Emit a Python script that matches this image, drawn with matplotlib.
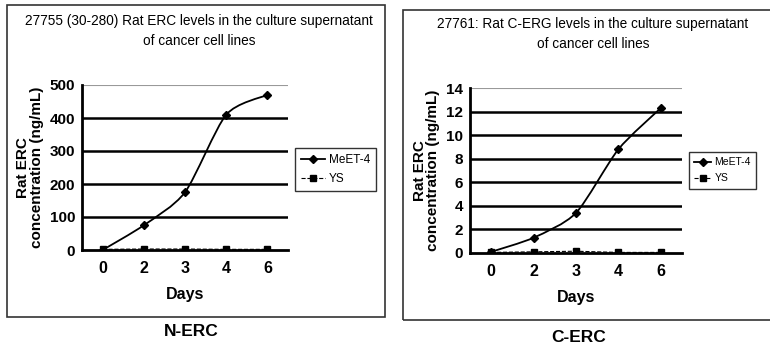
import numpy as np
import matplotlib
matplotlib.use("Agg")
import matplotlib.pyplot as plt
from matplotlib.path import Path
from matplotlib.patches import PathPatch, Rectangle

plt.rcParams["font.family"] = ["Liberation Sans", "DejaVu Sans"]

days = ["0", "2", "3", "4", "6"]

# N-ERC panel (ng/mL)
n_meet4 = [0, 75, 175, 410, 470]
n_ys = [2, 3, 3, 2, 2]

# C-ERC panel (ng/mL)
c_meet4 = [0.1, 1.3, 3.4, 8.8, 12.3]
c_ys = [0.05, 0.1, 0.15, 0.05, 0.05]

W, H = 770, 346


def px_rect(left, top, right, bottom):
    return [left / W, 1 - bottom / H, (right - left) / W, (bottom - top) / H]


def smooth_path(x, y, k=8):
    # smoothed line like a spreadsheet chart: Bezier segments through the points
    x = np.asarray(x, float)
    y = np.asarray(y, float)
    verts = [(x[0], y[0])]
    codes = [Path.MOVETO]
    n = len(x)
    for i in range(n - 1):
        x0, y0 = (x[i - 1], y[i - 1]) if i > 0 else (x[i], y[i])
        x3, y3 = (x[i + 2], y[i + 2]) if i + 2 < n else (x[i + 1], y[i + 1])
        c1 = (x[i] + (x[i + 1] - x0) / k, y[i] + (y[i + 1] - y0) / k)
        c2 = (x[i + 1] - (x3 - x[i]) / k, y[i + 1] - (y3 - y[i]) / k)
        verts += [c1, c2, (x[i + 1], y[i + 1])]
        codes += [Path.CURVE4] * 3
    return Path(verts, codes)


def draw_panel(fig, rect, meet4, ys, ymax, ystep, title, caption, cap_xy,
               leg_xy, leg_fs, leg_hl):
    ax = fig.add_axes(rect)
    xs = np.arange(len(days))
    ax.set_xlim(-0.5, len(days) - 0.5)
    ax.set_ylim(0, ymax)
    ticks = np.arange(0, ymax + 0.01, ystep)
    ax.set_yticks(ticks)
    ax.set_yticklabels([f"{t:g}" for t in ticks])
    ax.set_xticks(xs)
    ax.set_xticklabels(days)
    for t in ticks[1:]:
        top = t == ticks[-1]
        ax.axhline(t, color="#999999" if top else "black",
                   lw=0.8 if top else 1.8, zorder=1)
    for s in ["top", "right"]:
        ax.spines[s].set_visible(False)
    ax.spines["left"].set_linewidth(2)
    ax.spines["bottom"].set_linewidth(2)
    ax.tick_params(axis="y", length=0, labelsize=11, pad=5)
    ax.tick_params(axis="x", length=0, labelsize=11.5, pad=8)
    for lab in ax.get_xticklabels() + ax.get_yticklabels():
        lab.set_fontweight("bold")

    ax.add_patch(PathPatch(smooth_path(xs, meet4), facecolor="none",
                           edgecolor="black", lw=1.3, zorder=3))
    ax.plot(xs, meet4, ls="none", marker="D", ms=4, color="black", zorder=4)
    ax.plot(xs, ys, ls="--", lw=0.8, marker="s", ms=4, color="black", zorder=4)

    ax.set_xlabel("Days", fontsize=11.5, fontweight="bold", labelpad=8)
    ax.set_ylabel("Rat ERC\nconcentration (ng/mL)", fontsize=11,
                  fontweight="bold", labelpad=4, linespacing=1.0)

    h1, = ax.plot([], [], ls="-", lw=1.3, marker="D", ms=4, color="black")
    h2, = ax.plot([], [], ls="--", lw=0.8, marker="s", ms=4, color="black")
    leg = ax.legend([h1, h2], ["MeET-4", "YS"], loc="upper left",
                    bbox_to_anchor=(leg_xy[0] / W, 1 - leg_xy[1] / H),
                    bbox_transform=fig.transFigure,
                    fontsize=leg_fs, frameon=True, fancybox=False,
                    handlelength=leg_hl, borderpad=0.5, labelspacing=0.6,
                    handletextpad=0.35, borderaxespad=0)
    leg.get_frame().set_edgecolor("black")
    leg.get_frame().set_linewidth(1.0)

    fig.text(cap_xy[0] / W, 1 - cap_xy[1] / H, caption, ha="center", va="center",
             fontsize=12.5, fontweight="bold")
    fig.text(title[1] / W, 1 - title[2] / H, title[0], ha="center", va="center",
             fontsize=9.8, linespacing=1.55)
    return ax


fig = plt.figure(figsize=(7.7, 3.46), dpi=100)
fig.patch.set_facecolor("white")

# panel frames
fig.add_artist(Rectangle((7 / W, 1 - 317 / H), 378 / W, 312 / H,
                         transform=fig.transFigure, fill=False, lw=1.2, ec="#333333"))
fig.add_artist(Rectangle((403 / W, 1 - 320 / H), 380 / W, 310 / H,
                         transform=fig.transFigure, fill=False, lw=1.2, ec="#333333"))

draw_panel(fig, px_rect(82, 85, 288, 250), n_meet4, n_ys, 500, 100,
           ("27755 (30-280) Rat ERC levels in the culture supernatant\nof cancer cell lines", 199, 31),
           "N-ERC", (191, 332), (295, 148), 8.5, 2.0)

draw_panel(fig, px_rect(470, 88, 682, 253), c_meet4, c_ys, 14, 2,
           ("27761: Rat C-ERG levels in the culture supernatant\nof cancer cell lines", 593, 34),
           "C-ERC", (579, 338), (689, 152), 7.5, 1.6)

fig.savefig("out.png", dpi=100, facecolor="white")
